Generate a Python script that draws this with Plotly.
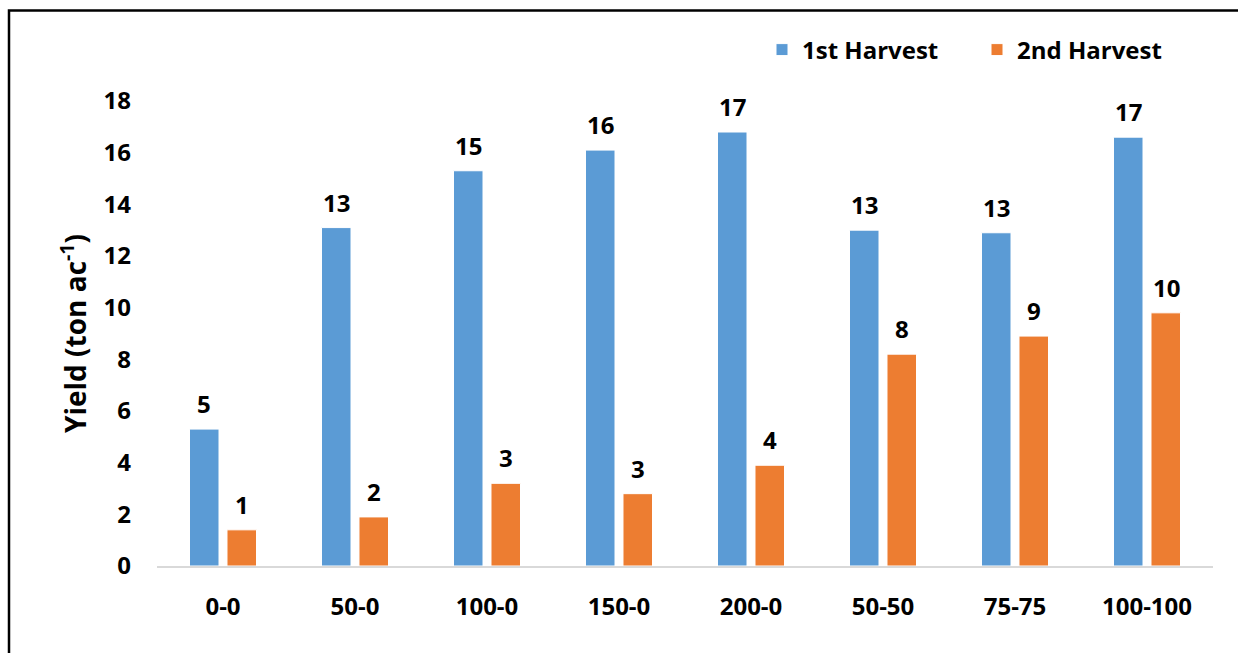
import plotly.graph_objects as go

# Yield per treatment, two harvests
treatments = ["0-0", "50-0", "100-0", "150-0", "200-0", "50-50", "75-75", "100-100"]
harvest_1 = [5.3, 13.1, 15.3, 16.1, 16.8, 13.0, 12.9, 16.6]
harvest_2 = [1.4, 1.9, 3.2, 2.8, 3.9, 8.2, 8.9, 9.8]
series_names = ["1st Harvest", "2nd Harvest"]
colors = ["#5B9BD5", "#ED7D31"]
y_ticks = [0, 2, 4, 6, 8, 10, 12, 14, 16, 18]

FONT = "Open Sans"
FS = 24
W, H = 1238, 653
ML, MR, MT, MB = 157, 25, 101, 87
PW, PH = W - ML - MR, H - MT - MB

bold = dict(family=FONT, size=FS, color="black", weight="bold")

fig = go.Figure()
for name, vals, col in zip(series_names, [harvest_1, harvest_2], colors):
    fig.add_trace(go.Bar(
        x=treatments, y=vals, name=name,
        marker=dict(color=col, line=dict(color="white", width=1)),
        hoverinfo="x+y+name",
    ))

# value labels above each bar, rounded to whole tons
annotations = []
for vals, shift in [(harvest_1, -19), (harvest_2, 19)]:
    for cat, v in zip(treatments, vals):
        annotations.append(dict(
            x=cat, y=v, xref="x", yref="y", text=f"{v:.0f}",
            showarrow=False, xshift=shift, yshift=7, yanchor="bottom",
            font=bold,
        ))

def px_x(p):
    return (p - ML) / PW

def px_y(p):
    return (H - MB - p) / PH

fig.update_layout(
    width=W, height=H,
    margin=dict(l=ML, r=MR, t=MT, b=MB, autoexpand=False),
    paper_bgcolor="white", plot_bgcolor="white",
    barmode="group", bargap=0.432, bargroupgap=0.213,
    font=bold,
    showlegend=True,
    legend=dict(
        orientation="h", x=px_x(762), y=px_y(50), xanchor="left", yanchor="middle",
        font=bold, entrywidth=170, entrywidthmode="pixels",
        bgcolor="rgba(0,0,0,0)", itemclick=False, itemdoubleclick=False,
        traceorder="normal",
    ),
    xaxis=dict(
        showgrid=False, zeroline=False, showline=True, linecolor="#D9D9D9", linewidth=1.5,
        ticks="", ticklabelstandoff=18,
        tickfont=bold, fixedrange=True,
    ),
    yaxis=dict(
        range=[0, 18], tickvals=y_ticks, showgrid=False, zeroline=False, showline=False,
        ticks="", ticklabelstandoff=25,
        tickfont=bold,
        title=dict(text="Yield (ton ac<sup>-1</sup>)", standoff=8,
                   font=dict(family=FONT, size=28, color="black", weight="bold")),
        fixedrange=True,
    ),
    annotations=annotations,
    shapes=[dict(
        type="rect", xref="paper", yref="paper",
        x0=px_x(9), x1=px_x(1260), y0=px_y(700), y1=px_y(10.5),
        line=dict(color="black", width=2.5), fillcolor="rgba(0,0,0,0)", layer="above",
    )],
)

fig.write_html("out.html")
